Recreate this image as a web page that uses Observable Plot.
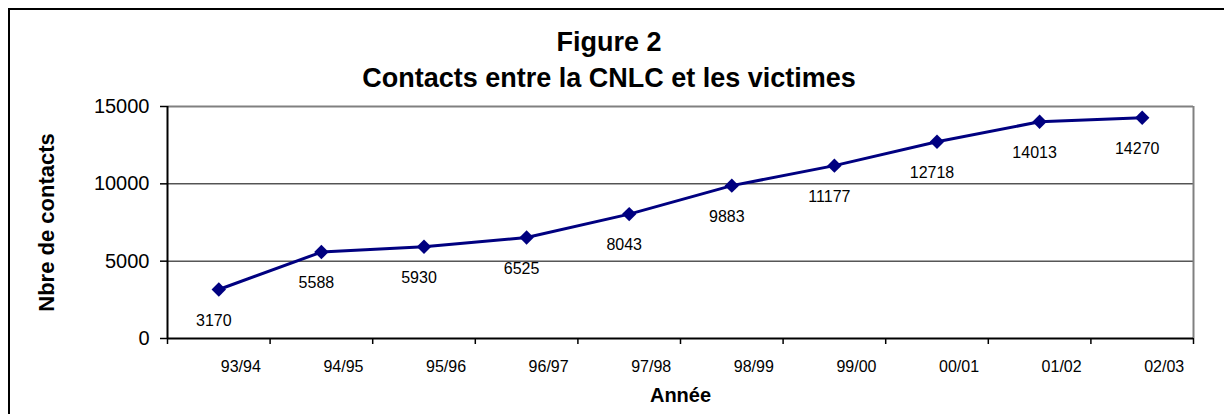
<!DOCTYPE html>
<html><head><meta charset="utf-8">
<script src="https://cdn.jsdelivr.net/npm/d3@7"></script>
<script src="https://cdn.jsdelivr.net/npm/@observablehq/plot@0.6"></script>
<style>
html,body{margin:0;padding:0;background:#fff;}
body{width:1224px;height:414px;overflow:hidden;position:relative;font-family:"Liberation Sans",Arial,sans-serif;}
#frame{position:absolute;left:8px;top:8px;width:1400px;height:600px;border-left:2px solid #000;border-top:2px solid #000;box-sizing:border-box;pointer-events:none;}
#title{height:97px;box-sizing:border-box;padding-top:24px;width:1218px;text-align:center;font-weight:bold;font-size:27px;line-height:36px;color:#000;}
#chart svg{display:block;}
</style></head>
<body>
<div id="frame"></div>
<div id="title">Figure 2<br>Contacts entre la CNLC et les victimes</div>
<div id="chart"></div>
<script>
const categories = ["93/94","94/95","95/96","96/97","97/98","98/99","99/00","00/01","01/02","02/03"];
const contacts = [3170,5588,5930,6525,8043,9883,11177,12718,14013,14270];
const yTicks = [0,5000,10000,15000];
const gridValues = [5000,10000];
const xTitle = "Année";
const yTitle = "Nbre de contacts";

const data = categories.map((c,i)=>({i, c, v: contacts[i]}));
const idx = d3.range(categories.length);
const bounds = d3.range(categories.length+1).map(k=>k-0.5);
const yMax = d3.max(yTicks);
const navy = "#000080";
const font = "'Liberation Sans', Arial, sans-serif";

const chart = Plot.plot({
  width: 1224,
  height: 317,
  marginTop: 9,
  marginBottom: 76,
  marginLeft: 167,
  marginRight: 31,
  style: {fontFamily: font, color: "#000", background: "transparent", overflow: "visible"},
  x: {type: "linear", domain: [bounds[0], bounds[bounds.length-1]]},
  y: {domain: [0, yMax]},
  marks: [
    Plot.ruleY(gridValues, {stroke: "#000", strokeWidth: 1}),
    Plot.ruleY([yMax], {stroke: "#808080", strokeWidth: 2}),
    Plot.ruleX([bounds[bounds.length-1]], {stroke: "#808080", strokeWidth: 2}),
    Plot.ruleY([0], {stroke: "#000", strokeWidth: 2}),
    Plot.ruleX([bounds[0]], {stroke: "#000", strokeWidth: 2}),
    Plot.axisY(yTicks, {tickSize: 7, tickPadding: 11, fontSize: 20, tickFormat: d3.format("d"), label: null, strokeWidth: 1.5}),
    Plot.axisX(bounds, {tickSize: 6, tickFormat: () => "", label: null, strokeWidth: 1.5}),
    Plot.axisX(idx, {tickSize: 0, tickPadding: 22, dx: 22, fontSize: 16, tickFormat: i => categories[i], label: null}),
    Plot.line(data, {x: "i", y: "v", stroke: navy, strokeWidth: 3}),
    Plot.dot(data, {x: "i", y: "v", symbol: "diamond2", r: 6.5, fill: navy, stroke: "none"}),
    Plot.text(data, {x: "i", y: "v", text: d => String(d.v), dy: 31, dx: -5, fontSize: 16, fill: "#000"}),
    Plot.text([xTitle], {text: d => d, frameAnchor: "bottom", lineAnchor: "middle", textAnchor: "middle", dy: 57, fontSize: 20, fontWeight: "bold", fill: "#000"}),
    Plot.text([yTitle], {text: d => d, frameAnchor: "left", textAnchor: "middle", lineAnchor: "middle", rotate: -90, dx: -121, fontSize: 22, fontWeight: "bold", fill: "#000"})
  ]
});
document.getElementById("chart").appendChild(chart);
</script>
</body></html>
